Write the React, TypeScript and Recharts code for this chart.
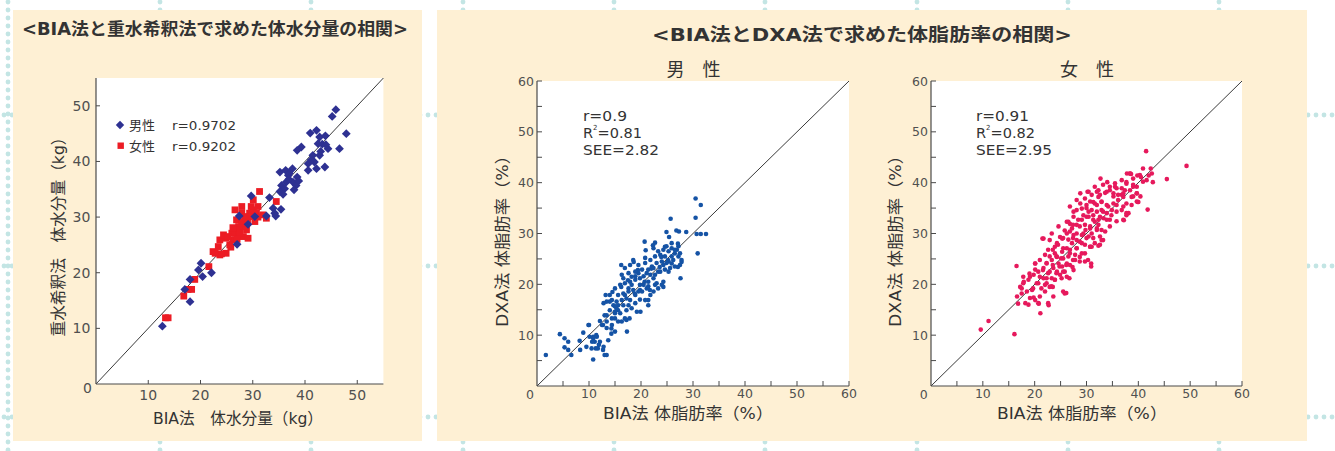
import React from 'react';
import { ScatterChart, Scatter, XAxis, YAxis, CartesianGrid, ReferenceLine } from 'recharts';

const FONT = '"DejaVu Sans", "Noto Sans CJK JP", sans-serif';
const AXIS = '#4a4a4a';
const TICK = '#505050';
const TEXT = '#333333';

// ---- data: [BIA, reference] pairs ----
const waterMale: [number, number][] = [
  [45.9, 49.3], [45.2, 48.1], [47.9, 45.0], [46.6, 42.3], [41.0, 45.1], [42.2, 45.6], [42.8, 44.4], [43.9, 44.6],
  [43.3, 43.1], [44.4, 42.3], [39.3, 42.6], [38.5, 42.0], [41.5, 41.1], [42.8, 41.1], [41.8, 39.9], [40.6, 39.6],
  [43.8, 39.0], [42.2, 38.7], [40.6, 38.4], [35.2, 38.1], [36.3, 38.4], [37.6, 38.7], [36.8, 37.5], [38.5, 37.2],
  [37.7, 36.3], [36.4, 36.3], [35.5, 35.7], [38.3, 35.7], [36.1, 35.1], [37.9, 34.9], [35.2, 34.6], [33.2, 33.5],
  [29.7, 33.8], [33.9, 31.6], [35.4, 31.4], [34.2, 30.7], [34.4, 30.2], [32.6, 30.2], [30.4, 30.1], [27.4, 30.2],
  [29.1, 28.7], [27.0, 25.1], [20.1, 21.7], [19.6, 20.5], [20.4, 19.3], [22.1, 20.0], [18.0, 18.8], [17.0, 17.0],
  [18.0, 14.8], [12.7, 10.4], [43.0, 41.8], [41.2, 40.3], [37.0, 37.9], [36.9, 36.8], [35.8, 34.1], [38.8, 36.5],
  [42.5, 43.2], [44.0, 43.0],
];
const waterFemale: [number, number][] = [
  [13.3, 11.9], [13.8, 11.9], [16.8, 15.8], [18.3, 17.0], [17.6, 17.0], [18.9, 18.8], [21.6, 21.1], [22.4, 23.8],
  [23.7, 23.2], [24.9, 23.5], [23.7, 25.9], [24.9, 26.2], [26.2, 25.9], [25.6, 25.0], [26.6, 27.1], [27.5, 27.7],
  [26.9, 29.5], [26.6, 31.3], [27.9, 30.7], [28.8, 29.5], [27.9, 28.6], [28.8, 27.7], [28.2, 26.5], [29.1, 26.2],
  [27.3, 28.3], [29.4, 30.7], [30.1, 31.3], [31.0, 31.9], [31.3, 34.6], [32.6, 29.8], [31.9, 30.4], [34.5, 32.8],
  [29.7, 30.1], [28.5, 30.1], [26.9, 27.7], [26.0, 27.1], [24.4, 26.8], [23.4, 24.7], [22.8, 23.5], [30.4, 29.2],
  [27.5, 27.1], [28.6, 28.3], [26.2, 28.1], [27.9, 31.9], [30.1, 33.1], [30.7, 30.7], [29.7, 31.9], [25.2, 26.5],
  [27.0, 26.0], [28.0, 29.2], [29.0, 29.0], [25.8, 24.6], [24.0, 23.4], [31.0, 30.0],
];
const fatMale: [number, number][] = [
  [1.7, 6.1], [4.4, 10.2], [5.3, 9.4], [6.0, 8.7], [5.3, 7.6], [6.0, 7.1], [6.6, 6.1], [8.2, 8.9], [8.9, 10.5],
  [10.0, 12.0], [8.3, 7.1], [9.5, 7.7], [10.1, 9.7], [10.8, 9.4], [11.4, 10.0], [11.1, 8.7], [10.5, 7.4], [10.8, 5.2],
  [12.1, 12.8], [12.7, 12.0], [11.7, 7.4], [12.7, 7.1], [13.4, 6.1], [13.7, 9.0], [14.3, 10.3], [14.3, 11.3],
  [13.0, 13.9], [13.2, 17.9], [14.0, 16.6], [14.5, 18.5], [15.0, 14.3], [15.6, 14.9], [15.0, 15.7], [16.2, 23.8],
  [17.2, 13.0], [17.3, 10.7], [17.8, 13.3], [16.2, 19.5], [16.9, 20.2], [17.5, 20.8], [18.2, 21.5], [18.6, 24.4],
  [19.4, 22.8], [18.8, 18.2], [19.8, 18.9], [19.8, 17.0], [19.9, 14.6], [20.7, 20.5], [21.4, 15.9], [21.4, 16.9],
  [20.7, 28.4], [20.9, 26.7], [21.7, 18.9], [22.3, 27.7], [22.7, 28.2], [22.0, 23.1], [23.0, 20.2], [24.3, 19.5],
  [23.6, 23.4], [23.9, 25.4], [24.6, 27.4], [24.9, 30.3], [25.4, 29.3], [25.7, 32.9], [25.2, 24.8], [25.9, 24.1],
  [26.8, 30.6], [27.3, 30.4], [27.1, 28.0], [27.5, 26.1], [27.6, 21.2], [27.1, 23.4], [27.8, 24.4], [28.7, 30.3],
  [30.5, 36.9], [30.5, 33.1], [31.5, 35.6], [30.7, 29.9], [31.5, 29.9], [32.5, 29.9], [30.9, 26.1],
  [9.9, 12.0], [10.8, 9.7], [11.5, 9.7], [12.1, 8.7], [13.4, 11.4], [14.4, 12.0], [15.0, 10.7], [15.6, 12.7],
  [13.4, 13.9], [14.0, 14.9], [15.0, 14.6], [16.0, 14.3], [13.4, 16.6], [14.4, 16.9], [15.3, 16.6], [16.3, 16.9],
  [17.2, 17.2], [15.6, 17.9], [16.6, 18.2], [17.6, 18.6], [18.5, 18.9], [16.0, 19.9], [17.9, 20.5], [18.9, 20.9],
  [19.8, 19.9], [20.2, 18.6], [21.1, 19.2], [18.9, 17.9], [17.9, 16.9], [18.9, 16.3], [17.6, 15.9], [16.3, 21.9],
  [17.6, 22.2], [18.9, 22.5], [20.2, 22.9], [21.1, 22.2], [19.8, 21.2], [21.4, 20.5], [19.5, 23.8], [20.8, 24.2],
  [22.1, 23.5], [21.8, 24.8], [22.7, 25.5], [23.7, 25.8], [23.0, 24.2], [24.0, 24.5], [24.6, 25.5], [25.3, 26.5],
  [24.9, 27.5], [25.9, 27.1], [26.5, 26.1], [24.3, 26.8], [23.3, 26.5], [22.4, 27.1], [25.3, 24.5], [26.2, 24.8],
  [27.2, 25.5], [21.8, 21.9], [22.4, 21.2], [22.7, 19.9], [18.5, 24.8], [17.9, 23.8], [16.9, 23.2], [15.0, 19.2],
  [14.0, 17.9], [15.0, 13.3], [13.4, 12.7], [12.5, 12.0], [11.9, 8.1], [12.8, 7.7], [13.0, 6.1], [11.3, 7.4],
  [10.6, 8.7], [16.3, 12.7], [16.9, 13.3], [17.2, 14.9], [18.2, 15.3], [19.2, 14.6], [20.8, 16.9], [21.8, 17.9],
  [22.4, 18.6], [23.3, 19.2], [24.3, 20.5], [24.0, 19.9], [16.6, 21.2], [20.5, 21.6], [21.4, 22.9], [23.7, 22.5],
  [24.6, 22.9], [25.6, 23.2], [26.5, 23.5], [27.5, 23.8], [27.8, 24.8], [26.9, 26.8], [25.9, 28.1], [27.2, 27.5],
  [18.9, 21.6], [17.6, 19.2], [15.6, 15.9], [14.7, 15.9], [12.8, 16.3],
  [18.2, 19.9], [19.5, 18.6], [20.5, 19.9], [21.4, 19.6], [22.7, 21.9], [23.3, 22.5], [24.3, 23.8], [24.9, 24.2],
  [25.9, 25.5], [26.5, 26.8], [25.3, 22.5], [22.4, 23.2], [20.8, 25.2], [19.5, 22.2], [16.9, 17.9], [15.3, 15.3],
  [16.6, 15.9], [14.4, 13.3],
];
const fatFemale: [number, number][] = [
  [9.6, 11.1], [11.1, 12.8], [16.1, 10.2], [16.5, 23.6], [16.6, 17.6], [16.8, 16.2], [17.9, 20.5], [17.5, 19.2],
  [19.0, 22.1], [19.5, 18.9], [19.8, 17.4], [20.1, 24.1], [20.8, 16.2], [21.1, 14.3], [21.7, 29.0], [22.7, 15.9],
  [23.5, 19.5], [26.1, 18.3], [26.7, 21.2], [27.3, 23.4], [30.9, 24.1], [32.3, 27.6], [32.7, 40.8], [30.2, 38.2],
  [34.0, 40.1], [37.2, 32.6], [37.7, 33.6], [37.8, 41.8], [38.6, 41.7], [39.9, 36.2], [40.4, 37.3], [40.5, 41.1],
  [40.9, 42.8], [41.5, 46.2], [41.8, 34.7], [42.4, 42.8], [42.8, 40.1], [45.5, 40.7], [49.3, 43.3], [42.0, 41.4],
  [39.8, 41.4],
  [20.1, 24.1], [21.5, 29.0], [22.9, 28.7], [22.6, 26.8], [23.9, 27.4], [24.9, 29.3], [25.8, 30.6], [26.8, 31.9],
  [26.5, 32.3], [27.5, 33.3], [28.1, 34.6], [29.1, 34.9], [30.0, 35.6], [30.4, 38.2], [31.3, 36.2], [32.3, 37.2],
  [32.0, 35.6], [32.9, 36.2], [33.9, 38.2], [34.5, 39.2], [35.2, 37.9], [35.8, 38.9], [36.8, 37.6], [37.7, 39.8],
  [38.4, 41.8], [39.0, 40.8], [39.7, 39.2], [40.3, 41.5], [41.6, 40.5], [42.6, 41.8], [37.1, 35.3], [38.1, 34.0],
  [35.8, 32.4], [34.5, 31.4], [33.6, 30.4], [32.6, 29.4], [33.2, 28.7], [31.6, 28.1], [30.7, 27.4], [29.7, 26.1],
  [28.7, 25.4], [27.8, 24.8], [26.8, 23.8], [25.8, 22.5], [24.9, 21.9], [23.9, 20.9], [22.9, 19.5], [22.0, 18.6],
  [21.0, 17.6], [20.1, 16.9], [19.1, 17.3], [18.5, 18.6], [17.8, 20.2], [18.8, 20.9], [19.8, 21.9], [20.7, 22.5],
  [21.7, 23.2], [22.3, 24.1], [23.3, 24.8], [24.3, 25.4], [25.3, 26.4], [26.2, 27.1], [27.2, 28.1], [28.1, 28.7],
  [29.1, 29.7], [29.8, 30.7], [30.7, 31.4], [31.6, 32.3], [32.6, 33.3], [33.2, 34.3], [34.2, 35.3], [35.2, 35.9],
  [36.1, 36.6], [37.1, 37.2], [30.0, 33.3], [29.1, 32.7], [28.1, 31.7], [27.2, 31.0], [26.2, 30.0], [25.3, 29.0],
  [24.3, 28.1], [23.3, 30.0], [24.6, 31.4], [26.2, 32.3], [27.5, 34.3], [28.8, 35.9], [29.7, 36.9], [31.0, 37.6],
  [32.3, 38.5], [33.2, 39.6], [31.6, 39.2], [30.4, 34.3], [31.3, 33.6], [32.3, 31.7], [31.0, 30.0], [30.0, 29.1],
  [29.1, 28.1], [28.1, 27.1], [26.8, 26.1], [25.5, 25.1], [24.6, 24.1], [23.6, 23.2], [22.6, 22.2], [21.7, 21.2],
  [20.7, 20.2], [19.7, 19.2], [21.3, 19.2], [22.3, 20.2], [23.3, 21.2], [24.3, 22.5], [25.3, 23.5], [26.2, 24.1],
  [27.5, 22.8], [26.2, 21.5], [25.5, 18.6], [25.8, 18.2], [23.6, 17.6], [22.6, 16.3], [20.7, 16.3], [18.8, 16.0],
  [29.7, 24.5], [27.8, 25.8], [31.0, 27.4], [32.0, 30.7], [33.9, 32.7], [34.8, 33.6], [35.8, 34.3], [36.8, 34.6],
  [37.7, 35.9], [38.7, 37.2], [39.7, 37.9], [40.0, 36.2], [40.9, 40.2], [39.0, 39.2], [36.8, 40.5], [35.5, 39.9],
  [37.4, 38.5], [26.8, 35.3], [28.1, 36.6], [28.8, 37.9], [27.5, 29.7], [23.9, 26.1], [22.0, 25.8], [21.0, 24.8],
  [20.1, 22.9], [19.1, 21.5], [17.8, 21.5], [17.2, 19.5], [17.5, 18.2], [18.2, 16.3],
  [38.4, 41.8], [37.7, 40.1], [39.0, 39.6], [36.8, 38.9], [35.5, 39.2], [34.5, 38.5], [33.6, 38.0], [32.6, 37.6],
  [32.0, 38.2], [30.7, 36.3], [31.6, 35.9], [32.9, 36.3], [33.9, 35.6], [35.2, 37.3], [36.1, 37.6], [37.1, 37.9],
  [38.4, 38.5], [39.7, 37.9], [30.0, 35.0], [31.0, 34.6], [32.0, 34.3], [32.9, 34.6], [33.9, 34.0], [34.9, 34.6],
  [35.8, 35.6], [29.4, 33.6], [30.4, 33.3], [31.3, 32.7], [32.3, 32.7], [33.3, 33.0], [34.5, 32.7], [28.4, 32.7],
  [27.4, 31.7], [28.7, 31.4], [29.7, 31.7], [30.7, 31.0], [32.0, 31.0], [32.9, 30.7], [26.8, 30.4], [28.1, 30.0],
  [29.4, 30.0], [30.4, 29.4], [31.3, 29.1], [25.5, 29.1], [26.5, 28.8], [27.4, 29.1], [28.7, 28.4], [29.7, 27.8],
  [30.7, 27.4], [24.5, 27.8], [25.5, 27.1], [26.8, 26.8], [28.1, 27.1], [29.1, 26.1], [23.5, 26.8], [22.9, 25.5],
  [24.2, 25.5], [25.1, 25.1], [26.5, 25.5], [27.4, 24.8], [28.7, 24.5], [22.3, 24.2], [23.5, 23.8], [24.8, 23.5],
  [26.1, 23.8], [21.6, 22.8], [22.9, 22.5], [24.2, 22.2], [25.5, 22.5], [21.0, 21.5], [22.3, 21.2], [23.9, 20.9],
  [25.2, 21.2], [20.4, 20.2], [22.0, 19.9], [23.2, 19.6], [30.3, 24.8], [30.9, 23.5], [32.6, 27.8], [32.9, 28.7],
  [37.1, 32.7], [37.7, 34.0], [39.0, 37.3], [39.7, 36.3], [38.7, 35.6],
];

const waterTicks = [0, 10, 20, 30, 40, 50];
const waterLabels = [10, 20, 30, 40, 50];
const fatTicks = [0, 5, 10, 15, 20, 25, 30, 35, 40, 45, 50, 55, 60];
const fatLabels = [10, 20, 30, 40, 50, 60];

const toPts = (a: [number, number][]) => a.map(([x, y]) => ({ x, y }));

// ---- tick renderers (ticks point inward) ----
const makeXTick = (labels: number[], len: number, fs: number, dy: number) => (props: any) => {
  const { x, y, payload } = props;
  const v = payload.value;
  if (v === 0) return <g />;
  return (
    <g>
      <line x1={x} y1={y} x2={x} y2={y - len} stroke={AXIS} strokeWidth={1} />
      {labels.includes(v) && (
        <text x={x} y={y + dy} textAnchor="middle" dominantBaseline="central" fontSize={fs} fill={TICK} fontFamily={FONT}>
          {v}
        </text>
      )}
    </g>
  );
};
const makeYTick = (labels: number[], len: number, fs: number, dx: number, zdx: number, zdy: number) => (props: any) => {
  const { x, y, payload } = props;
  const v = payload.value;
  if (v === 0) {
    return (
      <text x={x + zdx} y={y + zdy} textAnchor="middle" dominantBaseline="central" fontSize={fs} fill={TICK} fontFamily={FONT}>
        0
      </text>
    );
  }
  return (
    <g>
      <line x1={x} y1={y} x2={x + len} y2={y} stroke={AXIS} strokeWidth={1} />
      {labels.includes(v) && (
        <text x={x - dx} y={y} textAnchor="end" dominantBaseline="central" fontSize={fs} fill={TICK} fontFamily={FONT}>
          {v}
        </text>
      )}
    </g>
  );
};

const Diamond = (p: any) => {
  const { cx, cy } = p;
  const r = 4.4;
  return <polygon points={`${cx},${cy - r} ${cx + r},${cy} ${cx},${cy + r} ${cx - r},${cy}`} fill="#2e3192" />;
};
const Square = (p: any) => {
  const { cx, cy } = p;
  const s = 6.8;
  return <rect x={cx - s / 2} y={cy - s / 2} width={s} height={s} fill="#ec1c24" />;
};
const BlueDot = (p: any) => <circle cx={p.cx} cy={p.cy} r={2.3} fill="#1553a5" />;
const PinkDot = (p: any) => <circle cx={p.cx} cy={p.cy} r={2.3} fill="#e6195c" />;

type PanelProps = {
  left: number;
  top: number;
  width: number;
  height: number;
  max: number;
  ticks: number[];
  xLabels: number[];
  yLabels: number[];
  fs: number;
  xdy: number;
  ydx: number;
  zdx: number;
  zdy: number;
  tickLen: number;
  children: React.ReactNode;
};

function Plot(p: PanelProps) {
  const dom: [number, number] = [0, p.max];
  const xTicks = p.ticks.filter((t) => t !== 0);
  return (
    <div style={{ position: 'absolute', left: p.left, top: p.top }}>
      <ScatterChart width={p.width} height={p.height} margin={{ top: 10, right: 10, bottom: 0, left: 0 }}>
        <CartesianGrid fill="#ffffff" horizontal={false} vertical={false} stroke="none" />
        <XAxis
          type="number"
          dataKey="x"
          domain={dom}
          ticks={xTicks}
          interval={0}
          allowDataOverflow
          tickSize={0}
          tickMargin={0}
          tickLine={false}
          axisLine={{ stroke: AXIS, strokeWidth: 1.2 }}
          tick={makeXTick(p.xLabels, p.tickLen, p.fs, p.xdy)}
          height={25}
        />
        <YAxis
          type="number"
          dataKey="y"
          domain={dom}
          ticks={p.ticks}
          interval={0}
          allowDataOverflow
          tickSize={0}
          tickMargin={0}
          tickLine={false}
          axisLine={{ stroke: AXIS, strokeWidth: 1.2 }}
          tick={makeYTick(p.yLabels, p.tickLen, p.fs, p.ydx, p.zdx, p.zdy)}
          width={40}
        />
        <XAxis xAxisId="top" orientation="top" type="number" domain={dom} height={0} tick={false} tickLine={false} axisLine={{ stroke: AXIS, strokeWidth: 1.2 }} />
        <YAxis yAxisId="right" orientation="right" type="number" domain={dom} width={0} tick={false} tickLine={false} axisLine={{ stroke: AXIS, strokeWidth: 1.2 }} />
        {p.children}
        <ReferenceLine segment={[{ x: 0, y: 0 }, { x: p.max, y: p.max }]} stroke="#3a3a3a" strokeWidth={1} />
      </ScatterChart>
    </div>
  );
}

function Background() {
  const dots: React.ReactNode[] = [];
  const rows = [115, 266, 417];
  const cols = [8, 160, 311, 463, 614, 765, 917, 1068, 1219];
  rows.forEach((y) => {
    for (let x = 4; x < 1340; x += 8) dots.push(<circle key={`r${y}-${x}`} cx={x} cy={y} r={2.4} fill="#c3e5e4" />);
  });
  cols.forEach((x) => {
    for (let y = 2; y < 455; y += 8) dots.push(<circle key={`c${x}-${y}`} cx={x} cy={y} r={2.4} fill="#c3e5e4" />);
  });
  return (
    <svg width={1335} height={451} style={{ position: 'absolute', left: 0, top: 0 }}>
      {dots}
    </svg>
  );
}

const T = (props: any) => <text fontFamily={FONT} fill={TEXT} dominantBaseline="central" {...props} />;

function Overlay() {
  return (
    <svg width={1335} height={451} style={{ position: 'absolute', left: 0, top: 0, pointerEvents: 'none' }}>
      {/* panel titles */}
      <T x={22} y={28.5} fontSize={17} fontWeight={700} textLength={386} lengthAdjust="spacingAndGlyphs">
        &lt;BIA法と重水希釈法で求めた体水分量の相関&gt;
      </T>
      <T x={652} y={34} fontSize={18} fontWeight={700} textLength={420} lengthAdjust="spacingAndGlyphs">
        &lt;BIA法とDXA法で求めた体脂肪率の相関&gt;
      </T>
      <T x={693.5} y={69} fontSize={18} textAnchor="middle">男　性</T>
      <T x={1087} y={69} fontSize={18} textAnchor="middle">女　性</T>

      {/* legend of panel 1 */}
      <polygon points="120,120.8 124.2,125 120,129.2 115.8,125" fill="#2e3192" />
      <T x={129} y={125} fontSize={13}>男性</T>
      <T x={172} y={125} fontSize={13} textLength={64} lengthAdjust="spacingAndGlyphs">r=0.9702</T>
      <rect x={117.5} y={142.5} width={6.4} height={6.4} fill="#ec1c24" />
      <T x={129} y={146} fontSize={13}>女性</T>
      <T x={172} y={146} fontSize={13} textLength={64} lengthAdjust="spacingAndGlyphs">r=0.9202</T>

      {/* stats */}
      <T x={583} y={116} fontSize={14.5} textLength={44} lengthAdjust="spacingAndGlyphs">r=0.9</T>
      <T x={583} y={133} fontSize={14.5}>
        R<tspan fontSize={7} dy={-5}>2</tspan>
        <tspan dy={5}>=0.81</tspan>
      </T>
      <T x={583} y={150} fontSize={14.5} textLength={76} lengthAdjust="spacingAndGlyphs">SEE=2.82</T>
      <T x={976} y={116} fontSize={14.5} textLength={53} lengthAdjust="spacingAndGlyphs">r=0.91</T>
      <T x={976} y={133} fontSize={14.5}>
        R<tspan fontSize={7} dy={-5}>2</tspan>
        <tspan dy={5}>=0.82</tspan>
      </T>
      <T x={976} y={150} fontSize={14.5} textLength={76} lengthAdjust="spacingAndGlyphs">SEE=2.95</T>

      {/* axis titles */}
      <T x={238} y={418} fontSize={16} textAnchor="middle" textLength={170} lengthAdjust="spacingAndGlyphs">BIA法　体水分量（kg）</T>
      <T x={0} y={0} fontSize={16} textAnchor="middle" textLength={207} lengthAdjust="spacingAndGlyphs" transform="translate(58,233) rotate(-90)">
        重水希釈法　体水分量（kg）
      </T>
      <T x={688} y={413} fontSize={16} textAnchor="middle" textLength={170} lengthAdjust="spacingAndGlyphs">BIA法 体脂肪率（%）</T>
      <T x={0} y={0} fontSize={16} textAnchor="middle" textLength={180} lengthAdjust="spacingAndGlyphs" transform="translate(502,237) rotate(-90)">
        DXA法 体脂肪率（%）
      </T>
      <T x={1082} y={413} fontSize={16} textAnchor="middle" textLength={170} lengthAdjust="spacingAndGlyphs">BIA法 体脂肪率（%）</T>
      <T x={0} y={0} fontSize={16} textAnchor="middle" textLength={180} lengthAdjust="spacingAndGlyphs" transform="translate(895,237) rotate(-90)">
        DXA法 体脂肪率（%）
      </T>
    </svg>
  );
}

export default function App() {
  return (
    <div
      style={{
        position: 'absolute',
        left: 0,
        top: 0,
        width: 1335,
        height: 451,
        overflow: 'hidden',
        background: '#ffffff',
        fontFamily: FONT,
      }}
    >
      <Background />
      <div style={{ position: 'absolute', left: 13, top: 10, width: 409, height: 431, background: '#fef0d4' }} />
      <div style={{ position: 'absolute', left: 437, top: 10, width: 870, height: 431, background: '#fef0d4' }} />

      <Plot left={55.6} top={68} width={337.4} height={341} max={55} ticks={waterTicks} xLabels={waterLabels} yLabels={waterLabels}
        fs={14} xdy={11} ydx={5.6} zdx={-8.6} zdy={4} tickLen={4}>
        <Scatter data={toPts(waterFemale)} shape={Square} isAnimationActive={false} />
        <Scatter data={toPts(waterMale)} shape={Diamond} isAnimationActive={false} />
      </Plot>

      <Plot left={497} top={71} width={362} height={340} max={60} ticks={fatTicks} xLabels={fatLabels} yLabels={fatLabels}
        fs={12.5} xdy={7.5} ydx={3} zdx={-7} zdy={8} tickLen={5}>
        <Scatter data={toPts(fatMale)} shape={BlueDot} isAnimationActive={false} />
      </Plot>

      <Plot left={891} top={71} width={361} height={340} max={60} ticks={fatTicks} xLabels={fatLabels} yLabels={fatLabels}
        fs={12.5} xdy={7.5} ydx={3} zdx={-7.3} zdy={8} tickLen={5}>
        <Scatter data={toPts(fatFemale)} shape={PinkDot} isAnimationActive={false} />
      </Plot>

      <Overlay />
    </div>
  );
}
